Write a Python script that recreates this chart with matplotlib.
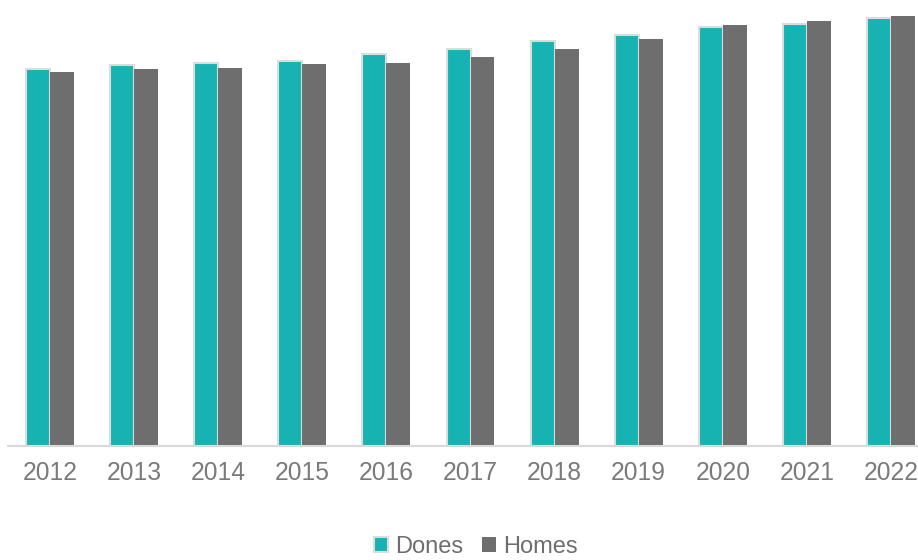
import matplotlib
matplotlib.use("Agg")
import matplotlib.pyplot as plt
import numpy as np

years = ["2012", "2013", "2014", "2015", "2016", "2017", "2018", "2019", "2020", "2021", "2022"]
dones = [377, 381, 383, 385, 392, 397, 405, 411, 419, 422, 428]
homes = [374, 377, 378, 382, 383, 389, 397, 407, 421, 425, 430]

plt.rcParams['font.family'] = ['Liberation Sans', 'DejaVu Sans']

W, H = 918, 560
fig = plt.figure(figsize=(W / 100, H / 100), dpi=100)
left_px, right_px, bottom_px, top_px = 8, 933, 446, 0
ax = fig.add_axes([left_px / W, (H - bottom_px) / H, (right_px - left_px) / W, (bottom_px - top_px) / H])

x = np.arange(len(years))
bw = 0.285
teal = "#17B3B3"
grey = "#6E6E6E"
ax.bar(x - bw / 2, dones, bw, color=teal, edgecolor="#dcdcdc", linewidth=1.5, label="Dones", zorder=2)
ax.bar(x + bw / 2, homes, bw, color=grey, edgecolor="none", label="Homes", zorder=2)

ax.set_xlim(-0.5, len(years) - 0.5)
ax.set_ylim(0, 446)
for s in ["top", "right", "left"]:
    ax.spines[s].set_visible(False)
ax.spines["bottom"].set_color("#d9d9d9")
ax.spines["bottom"].set_linewidth(1.5)
ax.set_yticks([])
ax.set_xticks(x)
ax.set_xticklabels(years, fontsize=17.7, color="#7a7a7a")
ax.tick_params(axis="x", length=0, pad=11)

handles, labels = ax.get_legend_handles_labels()
fig.legend(handles, labels, loc="center", bbox_to_anchor=(476 / W, 1 - 547 / H),
           ncol=2, frameon=False, fontsize=17, labelcolor="#6e6e6e",
           handlelength=0.6, handleheight=0.6, handletextpad=0.3, columnspacing=0.8,
           borderpad=0.1)

fig.savefig("out.png", dpi=100)
